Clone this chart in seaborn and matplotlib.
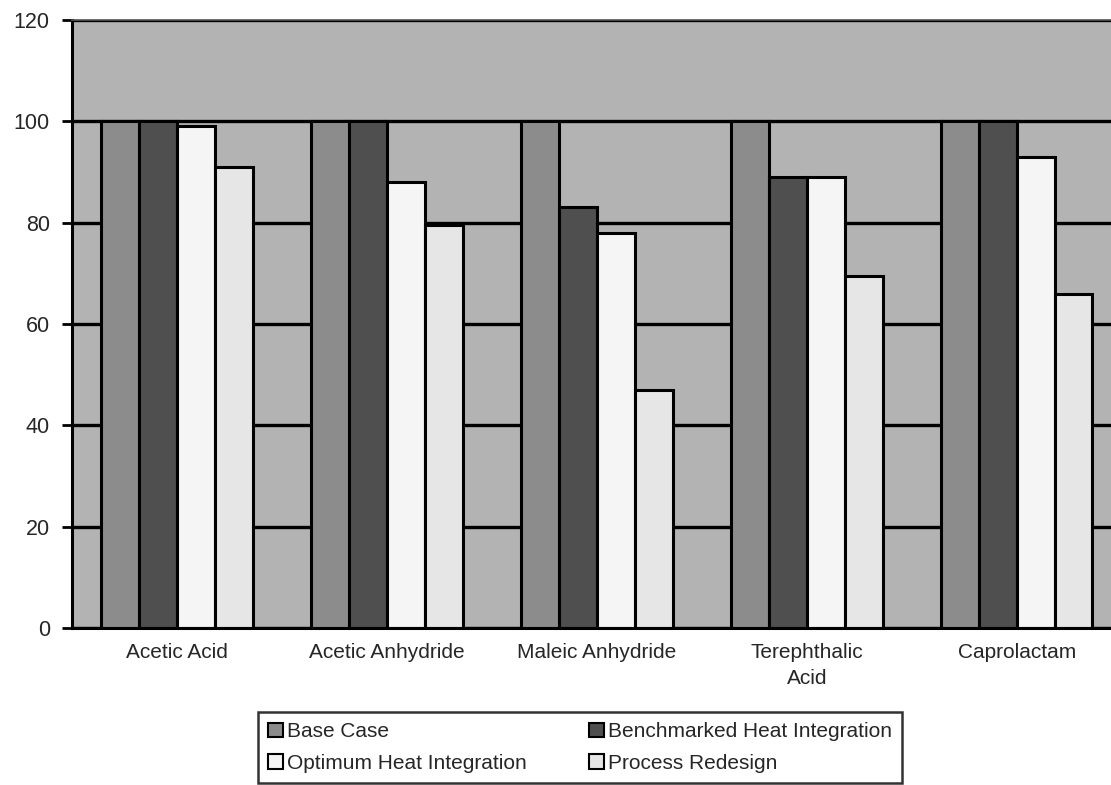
import numpy as np
import pandas as pd
import matplotlib
matplotlib.use("Agg")
import matplotlib.pyplot as plt
import seaborn as sns

# data
compounds = ["Acetic Acid", "Acetic Anhydride", "Maleic Anhydride",
             "Terephthalic\nAcid", "Caprolactam"]
scenarios = ["Base Case", "Benchmarked Heat Integration",
             "Optimum Heat Integration", "Process Redesign"]
base_case = [100, 100, 100, 100, 100]
benchmarked = [100, 100, 83, 89, 100]
optimum = [99, 88, 78, 89, 93]
redesign = [91, 79.5, 47, 69.5, 66]
colors = ["#8c8c8c", "#4f4f4f", "#f5f5f5", "#e6e6e6"]

df = pd.DataFrame({
    "compound": compounds * 4,
    "scenario": np.repeat(scenarios, len(compounds)),
    "value": base_case + benchmarked + optimum + redesign,
})

sns.set_style("white")
plt.rcParams["font.family"] = ["Liberation Sans", "DejaVu Sans"]
fs = 15

fig = plt.figure(figsize=(11.11, 7.85), dpi=100)
ax = fig.add_axes([0.0648, 0.2, 0.945, 0.7745])
ax.set_facecolor("#b3b3b3")

sns.barplot(data=df, x="compound", y="value", hue="scenario",
            order=compounds, hue_order=scenarios, palette=colors,
            width=0.72, gap=0, edgecolor="black", linewidth=2.2,
            saturation=1, errorbar=None, ax=ax)

ax.set_ylim(0, 120)
ax.set_xlim(-0.5, len(compounds) - 0.5)
ax.set_yticks(range(0, 121, 20))
ax.set_axisbelow(True)
ax.yaxis.grid(True, color="black", linewidth=2.4)
ax.xaxis.grid(False)
ax.set_xlabel("")
ax.set_ylabel("")

# category labels centred, tick marks between categories
ax.tick_params(axis="x", which="major", length=0, pad=11, labelsize=fs)
for lbl in ax.get_xticklabels():
    lbl.set_linespacing(1.45)
ax.set_xticks(np.arange(-0.5, len(compounds)), minor=True)
ax.tick_params(axis="x", which="minor", length=7, width=2, color="black",
               direction="out")
ax.tick_params(axis="y", length=7, width=2, color="black", direction="out",
               pad=9, labelsize=fs + 0.5, left=True)

for side in ["left", "bottom"]:
    ax.spines[side].set_color("black")
    ax.spines[side].set_linewidth(2.2)
ax.spines["top"].set_color("#555555")
ax.spines["top"].set_linewidth(1.2)
ax.spines["right"].set_visible(False)

handles, labels = ax.get_legend_handles_labels()
ax.get_legend().remove()
# matplotlib fills legend columns first; reorder so rows read across
order = [0, 2, 1, 3]
leg = fig.legend([handles[i] for i in order], [labels[i] for i in order],
                 loc="upper left", bbox_to_anchor=(0.232, 0.093), ncol=2,
                 frameon=True, fontsize=fs, handlelength=0.7,
                 handleheight=0.7, handletextpad=0.2, columnspacing=3.0,
                 labelspacing=0.6, borderpad=0.5, fancybox=False,
                 borderaxespad=0)
leg.get_frame().set_edgecolor("black")
leg.get_frame().set_linewidth(1.8)
for h in leg.legend_handles:
    h.set_linewidth(1.5)

fig.savefig("out.png", dpi=100)
